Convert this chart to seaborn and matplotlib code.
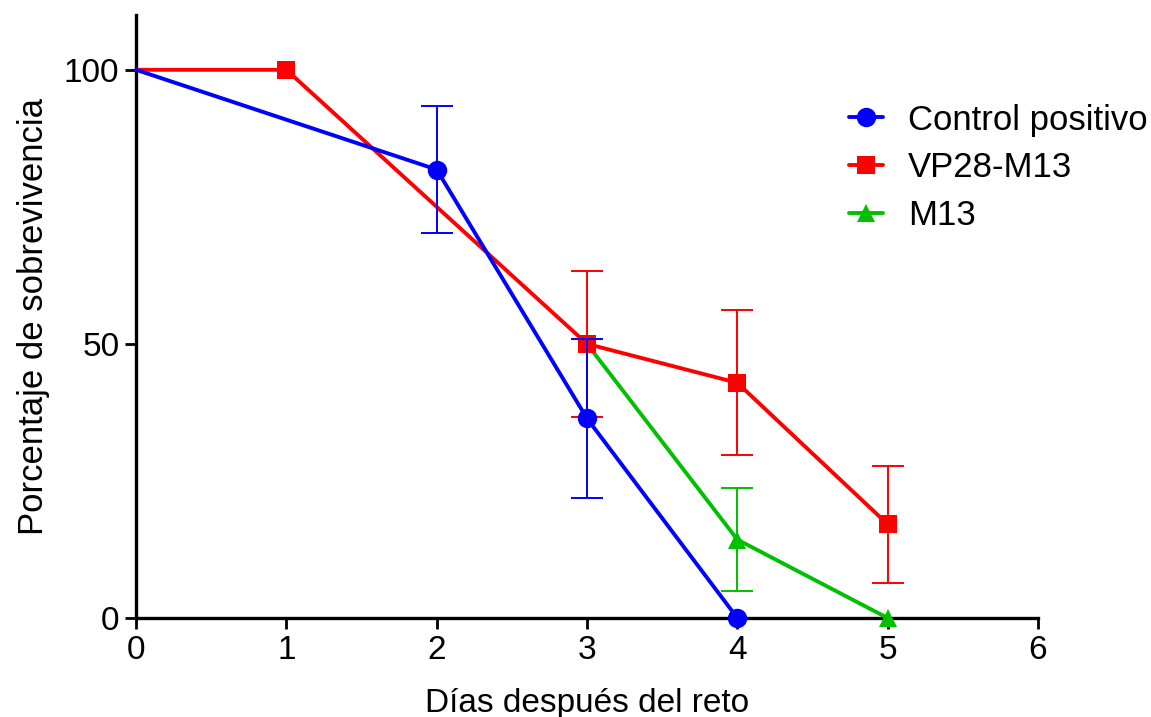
import matplotlib
matplotlib.use("Agg")
import matplotlib.pyplot as plt
import seaborn as sns
import pandas as pd

sns.set_theme(style="ticks")
plt.rcParams['font.family'] = ['Liberation Sans', 'DejaVu Sans']
for k in ['text.color', 'axes.labelcolor', 'xtick.color', 'ytick.color', 'axes.edgecolor']:
    plt.rcParams[k] = 'black'

# Data
control_x = [0, 2, 3, 4]
control_y = [100, 81.8, 36.4, 0]
control_err = [0, 11.6, 14.5, 0]

vp28_x = [0, 1, 3, 4, 5]
vp28_y = [100, 100, 50, 42.9, 17.1]
vp28_err = [0, 0, 13.3, 13.2, 10.7]

m13_x = [3, 4, 5]
m13_y = [50, 14.3, 0]
m13_err = [0, 9.4, 0]

series = [
    ("Control positivo", control_x, control_y, control_err, "#0000FF", "o", 14),
    ("VP28-M13", vp28_x, vp28_y, vp28_err, "#FF0000", "s", 13),
    ("M13", m13_x, m13_y, m13_err, "#00C000", "^", 13),
]

fig = plt.figure(figsize=(11.51, 7.17), dpi=100)
ax = fig.add_axes([0.1182, 0.1381, 0.7836, 0.841])

z = {"M13": 3, "VP28-M13": 4, "Control positivo": 5}
for name, xs, ys, es, col, mk, ms in series:
    df = pd.DataFrame({"x": xs, "y": ys})
    every = [i for i, xv in enumerate(xs) if xv != 0]
    sns.lineplot(data=df, x="x", y="y", ax=ax, color=col, marker=mk,
                 markersize=ms, markeredgewidth=0, linewidth=2.8,
                 markevery=every, label=name, zorder=z[name], clip_on=False)
    ex = [xv for xv, e in zip(xs, es) if e > 0]
    ey = [yv for yv, e in zip(ys, es) if e > 0]
    ee = [e for e in es if e > 0]
    ax.errorbar(ex, ey, yerr=ee, fmt="none", ecolor=col, elinewidth=1.4,
                capsize=11.5, capthick=1.4,
                zorder=z[name] - 0.5 if name == "Control positivo" else 2)

ax.set_xlim(0, 6)
ax.set_ylim(0, 110)
ax.set_xticks([0, 1, 2, 3, 4, 5, 6])
ax.set_yticks([0, 50, 100])
for s in ["top", "right"]:
    ax.spines[s].set_visible(False)
for s in ["left", "bottom"]:
    ax.spines[s].set_linewidth(2.4)
    ax.spines[s].set_color("black")
ax.tick_params(axis="both", length=8, width=2, color="black", direction="out",
               labelsize=24, pad=4, labelcolor="black")
ax.set_xlabel("Días después del reto", fontsize=24, labelpad=16)
ax.set_ylabel("Porcentaje de sobrevivencia", fontsize=25, labelpad=10)

handles, labels = ax.get_legend_handles_labels()
leg = ax.legend(handles, labels, loc="upper left", bbox_to_anchor=(0.79, 0.853),
                frameon=False, fontsize=25, handlelength=1.0, handletextpad=0.72,
                labelspacing=0.42, borderpad=0, borderaxespad=0, markerscale=1.0)

fig.savefig("out.png", dpi=100)
